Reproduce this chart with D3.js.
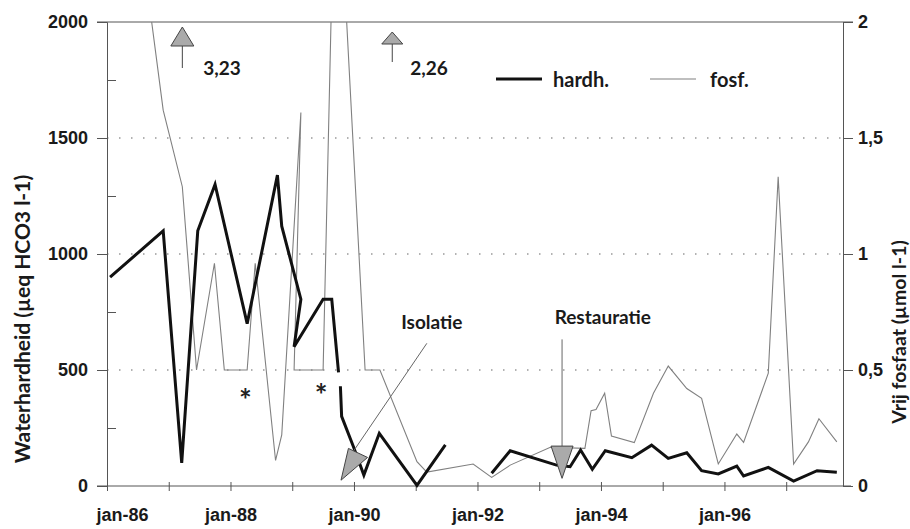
<!DOCTYPE html>
<html>
<head>
<meta charset="utf-8">
<script src="https://cdn.jsdelivr.net/npm/d3@7"></script>
<style>
  body { margin: 0; background: #fff; }
  svg { font-family: Lato, "Open Sans", sans-serif; font-weight: 700; }
  .axis text { fill: #1a1a1a; font-size: 18px; font-weight: 700; }
  .axis line, .axis path { stroke: #555; }
</style>
</head>
<body>
<div id="chart"></div>
<script>
// hardness (µeq HCO3 l-1), decimal years; null = gap in the series
var hardYear = [1986.05, 1986.91, 1987.21, 1987.47, 1987.75, 1988.27, 1988.76, 1988.83, 1989.14, 1989.03,
                1989.50, 1989.64, 1989.75, 1989.77, 1989.78, 1989.80, 1989.99, 1990.16, 1990.41, 1991.02,
                1991.48, 1991.80, 1992.23, 1992.53, 1993.28, 1993.50, 1993.67, 1993.86, 1994.07, 1994.50,
                1994.82, 1995.09, 1995.39, 1995.63, 1995.90, 1996.20, 1996.31, 1996.71, 1997.12, 1997.50,
                1997.82];
var hardVal = [900, 1100, 100, 1100, 1300, 700, 1340, 1120, 805, 600,
               805, 805, 490, null, 430, 300, 170, 47, 227, 3,
               177, null, 55, 152, 90, 83, 155, 72, 152, 122,
               176, 119, 143, 66, 52, 86, 43, 80, 21, 66,
               59];

// free phosphate (µmol l-1)
var fosfYear = [1986.12, 1986.91, 1987.22, 1987.45, 1987.74, 1987.90, 1988.27, 1988.40, 1988.73, 1988.83,
                1989.14, 1989.03, 1989.50, 1989.65, 1989.83, 1990.18, 1990.42, 1991.02, 1991.18, 1991.93,
                1992.23, 1992.53, 1993.18, 1993.74, 1993.84, 1993.92, 1994.06, 1994.17, 1994.54, 1994.85,
                1995.09, 1995.39, 1995.63, 1995.90, 1996.20, 1996.31, 1996.71, 1996.87, 1997.12, 1997.36,
                1997.53, 1997.82];
var fosfVal = [3.23, 1.62, 1.29, 0.50, 0.96, 0.50, 0.50, 0.96, 0.11, 0.22,
               1.61, 0.50, 0.50, 2.26, 2.26, 0.50, 0.50, 0.105, 0.06, 0.095,
               0.037, 0.09, 0.167, 0.162, 0.325, 0.33, 0.40, 0.215, 0.187, 0.40,
               0.517, 0.42, 0.378, 0.095, 0.224, 0.188, 0.486, 1.333, 0.095, 0.19,
               0.29, 0.19];

var leftTicks = [0, 500, 1000, 1500, 2000];
var leftMinor = [250, 750, 1250, 1750];
var rightTicks = [0, 0.5, 1, 1.5, 2];
var yearTicks = d3.range(1986, 1998);

var hard = hardYear.map((d, i) => ({ t: d, v: hardVal[i] }));
var fosf = fosfYear.map((d, i) => ({ t: d, v: fosfVal[i] }));

var W = 910, H = 529;
var margin = { top: 22, left: 107, right: 67, bottom: 43 };
var width = W - margin.left - margin.right,
    height = H - margin.top - margin.bottom;

var svg = d3.select('#chart').append('svg')
    .attr('width', W)
    .attr('height', H)
    .append('g')
    .attr('transform', 'translate(' + margin.left + ',' + margin.top + ')');

var x = d3.scaleLinear().domain([1986, 1997.92]).range([0, width]);
var yL = d3.scaleLinear().domain([0, 2000]).range([height, 0]);
var yR = d3.scaleLinear().domain([0, 2]).range([height, 0]);

// dotted grid
svg.selectAll('.grid')
    .data([500, 1000, 1500])
    .enter().append('line')
    .attr('class', 'grid')
    .attr('x1', 0).attr('x2', width)
    .attr('y1', d => yL(d)).attr('y2', d => yL(d))
    .attr('stroke', '#999')
    .attr('stroke-width', 1.6)
    .attr('stroke-dasharray', '1.5,10.5');

// top border line
svg.append('line')
    .attr('x1', -10).attr('x2', width + 10)
    .attr('y1', 0).attr('y2', 0)
    .attr('stroke', '#555');

// left axis
svg.append('g').attr('class', 'axis')
    .call(d3.axisLeft(yL).tickValues(leftTicks).tickSize(10).tickPadding(9).tickFormat(d3.format('d')));
svg.append('g').attr('class', 'axis')
    .call(d3.axisRight(yL).tickValues(leftMinor).tickSize(9).tickFormat(''))
    .select('.domain').remove();

// right axis
svg.append('g').attr('class', 'axis')
    .attr('transform', 'translate(' + width + ',0)')
    .call(d3.axisRight(yR).tickValues(rightTicks).tickSize(10).tickPadding(5)
        .tickFormat(d => String(d).replace('.', ',')));

// bottom axis
var gB = svg.append('g').attr('class', 'axis')
    .attr('transform', 'translate(0,' + height + ')')
    .call(d3.axisBottom(x).tickValues(yearTicks).tickSize(5).tickSizeOuter(0)
        .tickFormat(d => d % 2 === 0 ? 'jan-' + String(d).slice(2) : ''));
gB.select('.domain').remove();
gB.selectAll('.tick line').attr('y1', -4);
gB.selectAll('.tick text').attr('y', 22)
    .attr('dx', d => d === 1986 ? 15 : 0);
gB.append('line')
    .attr('x1', -10).attr('x2', width + 8)
    .attr('stroke', '#555');

// axis titles
svg.append('text')
    .attr('transform', 'translate(' + (21 - margin.left) + ',' + (319 - margin.top) + ') rotate(-90)')
    .attr('text-anchor', 'middle')
    .attr('dominant-baseline', 'central')
    .style('font-size', '21px')
    .attr('fill', '#1a1a1a')
    .text('Waterhardheid (µeq HCO3 l-1)');

svg.append('text')
    .attr('transform', 'translate(' + (898 - margin.left) + ',' + (332 - margin.top) + ') rotate(-90)')
    .attr('text-anchor', 'middle')
    .attr('dominant-baseline', 'central')
    .style('font-size', '19.5px')
    .attr('fill', '#1a1a1a')
    .text('Vrij fosfaat (µmol l-1)');

// clip the lines at the top of the plot
svg.append('clipPath').attr('id', 'plot')
    .append('rect').attr('x', 0).attr('y', 0).attr('width', width).attr('height', height + 5);

var lineL = d3.line().defined(d => d.v != null).x(d => x(d.t)).y(d => yL(d.v));
var lineR = d3.line().defined(d => d.v != null).x(d => x(d.t)).y(d => yR(d.v));

svg.append('path')
    .datum(fosf)
    .attr('clip-path', 'url(#plot)')
    .attr('fill', 'none')
    .attr('stroke', '#808080')
    .attr('stroke-width', 1.1)
    .attr('d', lineR);

svg.append('path')
    .datum(hard)
    .attr('clip-path', 'url(#plot)')
    .attr('fill', 'none')
    .attr('stroke', '#111')
    .attr('stroke-width', 3)
    .attr('stroke-linejoin', 'miter')
    .attr('d', lineL);

// off-scale markers at the top
function upMarker(t, label, top, base, half, stemEnd, gap) {
    var cx = x(t);
    svg.append('line')
        .attr('x1', cx).attr('x2', cx).attr('y1', base).attr('y2', stemEnd)
        .attr('stroke', '#444');
    svg.append('path')
        .attr('d', 'M' + cx + ',' + top + ' L' + (cx - half) + ',' + base + ' L' + (cx + half) + ',' + base + ' Z')
        .attr('fill', '#aaa').attr('stroke', '#444');
    svg.append('text')
        .attr('x', cx + gap).attr('y', 45)
        .attr('dominant-baseline', 'central')
        .style('font-size', '19px')
        .attr('fill', '#1a1a1a')
        .text(label);
}
upMarker(1987.22, '3,23', 5, 24, 11.5, 46, 21);
upMarker(1990.62, '2,26', 10, 22, 10.5, 40, 18);

// legend
var leg = svg.append('g').attr('transform', 'translate(' + (496 - margin.left) + ',' + (79 - margin.top) + ')');
leg.append('line').attr('x1', 0).attr('x2', 46).attr('stroke', '#111').attr('stroke-width', 3);
leg.append('text').attr('x', 57).attr('dominant-baseline', 'central')
    .style('font-size', '20px').attr('fill', '#1a1a1a').text('hardh.');
leg.append('line').attr('x1', 154).attr('x2', 200).attr('stroke', '#808080').attr('stroke-width', 1.1);
leg.append('text').attr('x', 214).attr('dominant-baseline', 'central')
    .style('font-size', '20px').attr('fill', '#1a1a1a').text('fosf.');

// Isolatie annotation
svg.append('line')
    .attr('x1', x(1991.18)).attr('y1', yL(615))
    .attr('x2', x(1989.94)).attr('y2', yL(130))
    .attr('stroke', '#666');
svg.append('path')
    .attr('d', 'M' + x(1989.79) + ',' + yL(25) +
        ' L' + x(1989.91) + ',' + yL(162) +
        ' L' + x(1990.22) + ',' + yL(123) + ' Z')
    .attr('fill', '#aaa').attr('stroke', '#444');
svg.append('text')
    .attr('x', x(1991.26)).attr('y', yL(707))
    .attr('text-anchor', 'middle').attr('dominant-baseline', 'central')
    .style('font-size', '19px').attr('fill', '#1a1a1a')
    .text('Isolatie');

// Restauratie annotation
var rx = x(1993.37);
svg.append('line')
    .attr('x1', rx).attr('x2', rx).attr('y1', yL(632)).attr('y2', yL(172))
    .attr('stroke', '#666');
svg.append('path')
    .attr('d', 'M' + (rx - 11) + ',' + yL(172) + ' L' + (rx + 11) + ',' + yL(172) +
        ' L' + rx + ',' + yL(33) + ' Z')
    .attr('fill', '#aaa').attr('stroke', '#444');
svg.append('text')
    .attr('x', x(1994.03)).attr('y', yL(730))
    .attr('text-anchor', 'middle').attr('dominant-baseline', 'central')
    .style('font-size', '19px').attr('fill', '#1a1a1a')
    .text('Restauratie');

// asterisks
svg.selectAll('.star')
    .data([[1988.24, 405], [1989.47, 425]])
    .enter().append('text')
    .attr('class', 'star')
    .attr('x', d => x(d[0])).attr('y', d => yL(d[1]))
    .attr('dy', '0.62em')
    .attr('text-anchor', 'middle')
    .style('font-size', '30px').attr('fill', '#222')
    .text('*');
</script>
</body>
</html>
